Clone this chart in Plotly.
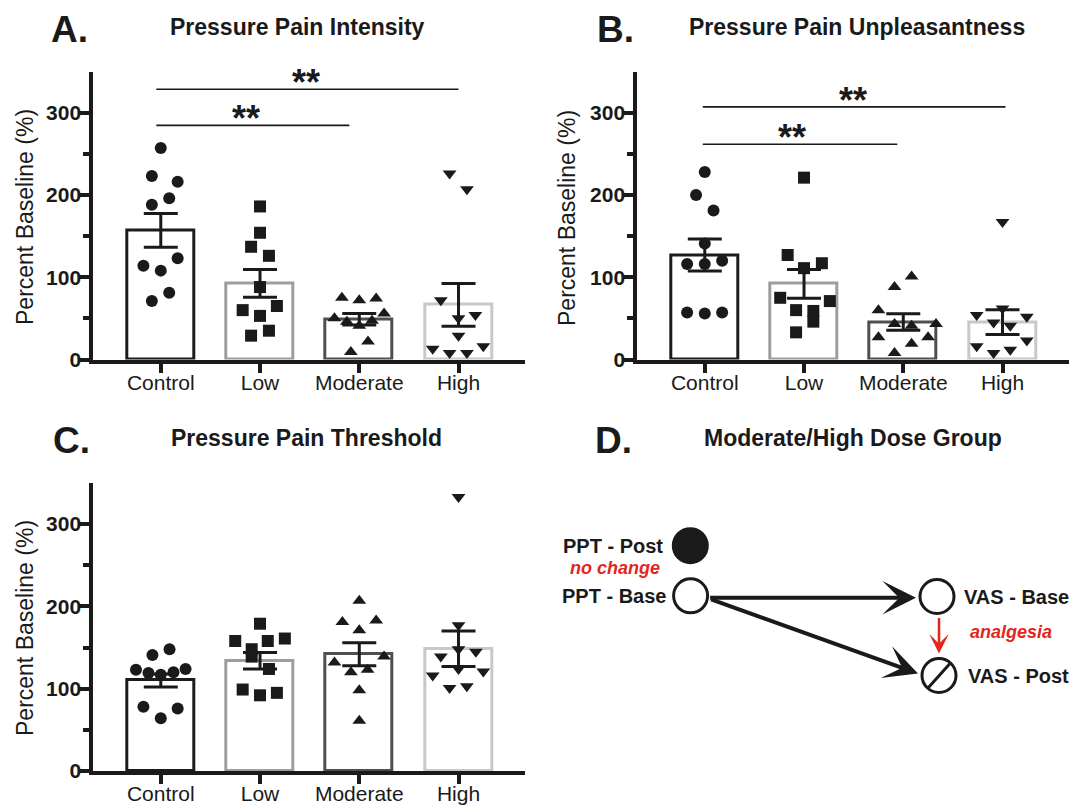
import plotly.graph_objects as go

W, H = 1069, 805

# ---------------- data ----------------
categories = ["Control", "Low", "Moderate", "High"]

# Panel A: Pressure Pain Intensity (% baseline, individual subjects)
intensity_control = [257, 223, 216, 196, 188, 123, 114, 108, 81, 71]
intensity_low = [186, 154, 137, 126, 88, 65, 60, 53, 35, 29]
intensity_moderate = [75, 72, 74, 56, 50, 46, 41, 47, 22, 9]
intensity_high = [226, 207, 72, 50, 54, 29, 13, 16, 8, 8]
intensity_mean = [157, 92.5, 49, 66.5]
intensity_sem = [20.5, 17, 7, 26]

# Panel B: Pressure Pain Unpleasantness
unpleasant_control = [228, 200, 181, 141, 116, 116, 120, 57, 56, 57]
unpleasant_low = [221, 127, 117, 111, 75, 71, 60, 59, 46, 33]
unpleasant_moderate = [101, 88, 60, 43, 41, 43, 27, 27, 19, 8]
unpleasant_high = [167, 62, 54, 52, 45, 41, 16, 23, 12, 8]
unpleasant_mean = [127, 92, 45.5, 45.5]
unpleasant_sem = [19.5, 17.5, 10, 15]

# Panel C: Pressure Pain Threshold
threshold_control = [141, 148, 123, 119, 117, 120, 124, 78, 76, 64]
threshold_low = [179, 158, 158, 161, 148, 139, 124, 99, 92, 95]
threshold_moderate = [207, 181, 183, 171, 139, 132, 120, 123, 98, 61]
threshold_high = [333, 177, 148, 139, 145, 124, 116, 121, 101, 103]
threshold_mean = [110, 134, 142, 148.5]
threshold_sem = [8, 10, 14, 21.5]

# significance brackets: (line start, line end, height, label x, label)
sig_intensity = [(-0.045, 1.9, 284.5, 0.855, "**"), (-0.045, 3.0, 328.5, 1.46, "**")]
sig_unpleasant = [(-0.02, 1.94, 261.5, 0.88, "**"), (-0.02, 3.03, 307, 1.49, "**")]

# horizontal jitter of the dots (category units)
jit_A = [
    [0, -0.09, 0.17, 0.085, -0.09, 0.17, -0.175, 0, 0.085, -0.09],
    [0, 0, -0.09, 0.09, 0, 0.17, -0.175, 0, 0.09, -0.09],
    [-0.175, 0, 0.17, 0.25, -0.25, -0.125, 0, 0.128, 0.088, -0.085],
    [-0.09, 0.085, -0.178, 0, 0.17, 0, -0.26, 0.25, -0.09, 0.085],
]
jit_B = [
    [0, -0.088, 0.088, 0, -0.178, 0, 0.175, -0.178, 0, 0.175],
    [0, -0.165, 0.18, 0, -0.24, 0.26, -0.08, 0.094, 0.094, -0.08],
    [0.084, -0.088, -0.25, -0.088, 0.084, 0.33, -0.25, 0.25, 0.084, -0.088],
    [0, 0, -0.26, 0.245, -0.09, 0.078, -0.26, 0.245, 0.078, -0.09],
]
jit_C = [
    [-0.084, 0.088, -0.25, -0.124, 0, 0.128, 0.25, -0.175, 0.17, 0],
    [0, -0.25, 0.078, 0.25, -0.084, -0.084, 0.09, -0.175, 0, 0.17],
    [0, -0.17, 0.17, 0, 0.25, -0.25, -0.084, 0.084, 0, 0],
    [0, 0, 0, -0.178, 0.175, 0, -0.26, 0.25, -0.09, 0.084],
]

# diagram (panel D)
node_names = ["PPT - Post", "PPT - Base", "VAS - Base", "VAS - Post"]
node_x = [690.3, 690.6, 937, 939]
node_y = [545.7, 595.8, 596.5, 675.5]

# ---------------- styles ----------------
FONT = "Arial, Liberation Sans, Helvetica, sans-serif"
INK = "#1a1a1a"
RED = "#e2261c"
BAR_LINE = ["#1c1c1c", "#9d9d9d", "#4f4f4f", "#c8c8cc"]
SYMBOLS = ["circle", "square", "triangle-up", "triangle-down"]
SIZES = [12, 12, 12, 12]


def px(x):
    return x / W


def py(y):
    return 1 - y / H


fig = go.Figure()

panels = [
    dict(sfx="", groups=[intensity_control, intensity_low, intensity_moderate, intensity_high],
         mean=intensity_mean, sem=intensity_sem, jit=jit_A, sig=sig_intensity,
         xdom=(93.3, 525), ydom=(71.5, 359.5)),
    dict(sfx="2", groups=[unpleasant_control, unpleasant_low, unpleasant_moderate, unpleasant_high],
         mean=unpleasant_mean, sem=unpleasant_sem, jit=jit_B, sig=sig_unpleasant,
         xdom=(637.3, 1069), ydom=(71.5, 359.5)),
    dict(sfx="3", groups=[threshold_control, threshold_low, threshold_moderate, threshold_high],
         mean=threshold_mean, sem=threshold_sem, jit=jit_C, sig=[],
         xdom=(93.3, 525), ydom=(483, 771)),
]

xpos = list(range(len(categories)))

for p in panels:
    xa, ya = "x" + p["sfx"], "y" + p["sfx"]
    fig.add_trace(go.Bar(
        x=xpos, y=p["mean"], width=0.675, xaxis=xa, yaxis=ya,
        marker=dict(color="white", line=dict(color=BAR_LINE, width=3)),
        hoverinfo="skip"))
    for gi, vals in enumerate(p["groups"]):
        fig.add_trace(go.Scatter(
            x=[gi + j for j in p["jit"][gi]], y=vals, mode="markers",
            xaxis=xa, yaxis=ya, cliponaxis=False,
            marker=dict(symbol=SYMBOLS[gi], size=SIZES[gi], color=INK, line=dict(width=0))))
    fig.add_trace(go.Scatter(
        x=xpos, y=p["mean"], mode="markers", xaxis=xa, yaxis=ya,
        marker=dict(size=1, color="rgba(0,0,0,0)"),
        error_y=dict(type="data", array=p["sem"], color=INK, thickness=3, width=17)))
    for (x0, x1, h, lx, lab) in p["sig"]:
        fig.add_shape(type="line", xref=xa, yref=ya, x0=x0, x1=x1,
                      y0=h, y1=h, line=dict(color=INK, width=1.6))
        fig.add_annotation(xref=xa, yref=ya, x=lx, y=h, text=lab, showarrow=False,
                           yanchor="bottom", yshift=-16,
                           font=dict(family=FONT, size=36, color=INK, weight="bold"))

    ax_common = dict(showgrid=False, zeroline=False, showline=True, linewidth=4, linecolor=INK,
                     ticks="outside", tickwidth=4, tickcolor=INK, automargin=False)
    fig.update_layout({
        "xaxis" + p["sfx"]: dict(ax_common, domain=[px(p["xdom"][0]), px(p["xdom"][1])],
                                 anchor=ya, range=[-0.68, 3.67], tickvals=xpos, ticktext=categories,
                                 ticklen=9, ticklabelstandoff=-8,
                                 tickfont=dict(family=FONT, size=21, color=INK)),
        "yaxis" + p["sfx"]: dict(ax_common, domain=[py(p["ydom"][1]), py(p["ydom"][0])],
                                 anchor=xa, range=[0, 350], tickvals=[0, 100, 200, 300],
                                 ticklen=10, ticklabelstandoff=-6,
                                 minor=dict(tickvals=[50, 150, 250], ticks="outside", ticklen=6,
                                            tickwidth=4, tickcolor=INK),
                                 tickfont=dict(family=FONT, size=21, color=INK, weight="bold")),
    })

# ---------------- panel D diagram ----------------
fig.update_layout(
    xaxis4=dict(domain=[px(540), 1], range=[540, 1069], visible=False, anchor="y4", automargin=False),
    yaxis4=dict(domain=[py(700), py(500)], range=[700, 500], visible=False, anchor="x4", automargin=False),
)
fig.add_trace(go.Scatter(
    x=node_x, y=node_y, mode="markers", xaxis="x4", yaxis="y4",
    marker=dict(size=34, color=[INK, "white", "white", "white"], line=dict(color=INK, width=3))))
# slash through VAS - Post
fig.add_shape(type="line", xref="x4", yref="y4", x0=node_x[3] - 11, y0=node_y[3] + 12.5,
              x1=node_x[3] + 11, y1=node_y[3] - 12, line=dict(color=INK, width=3))

arrow_common = dict(xref="x4", yref="y4", axref="x4", ayref="y4", text="", showarrow=True,
                    standoff=0, startstandoff=0)
fig.add_annotation(arrow_common, x=node_x[2] - 21, y=node_y[1] + 2, ax=node_x[1] + 18, ay=node_y[1] + 2,
                   arrowhead=3, arrowsize=1.4, arrowwidth=4, arrowcolor=INK)
fig.add_annotation(arrow_common, x=node_x[3] - 21, y=node_y[3] - 2, ax=node_x[1] + 19, ay=node_y[1] + 3,
                   arrowhead=3, arrowsize=1.4, arrowwidth=4, arrowcolor=INK)
fig.add_annotation(arrow_common, x=node_x[2] + 2, y=node_y[3] - 22, ax=node_x[2] + 2, ay=node_y[2] + 20,
                   arrowhead=3, arrowsize=1.3, arrowwidth=2.5, arrowcolor=RED)

lab_font = dict(family=FONT, size=20, color=INK, weight="bold")
red_font = dict(family=FONT, size=18, color=RED, weight="bold", style="italic")
fig.add_annotation(xref="x4", yref="y4", x=665, y=node_y[0], text=node_names[0], showarrow=False,
                   xanchor="right", yanchor="middle", font=lab_font)
fig.add_annotation(xref="x4", yref="y4", x=667.5, y=node_y[1], text=node_names[1], showarrow=False,
                   xanchor="right", yanchor="middle", font=lab_font)
fig.add_annotation(xref="x4", yref="y4", x=961.5, y=node_y[2], text=node_names[2], showarrow=False,
                   xanchor="left", yanchor="middle", font=lab_font)
fig.add_annotation(xref="x4", yref="y4", x=965.5, y=node_y[3], text=node_names[3], showarrow=False,
                   xanchor="left", yanchor="middle", font=lab_font)
fig.add_annotation(xref="x4", yref="y4", x=662, y=568, text="no change", showarrow=False,
                   xanchor="right", yanchor="middle", font=red_font)
fig.add_annotation(xref="x4", yref="y4", x=967.5, y=631.5, text="analgesia", showarrow=False,
                   xanchor="left", yanchor="middle", font=red_font)

# ---------------- panel letters, titles, axis titles ----------------
letters = [("A.", 49, 29), ("B.", 595, 30), ("C.", 51, 441), ("D.", 593, 441)]
for t, x, y in letters:
    fig.add_annotation(xref="paper", yref="paper", x=px(x), y=py(y), text=t, showarrow=False,
                       xanchor="left", yanchor="middle",
                       font=dict(family=FONT, size=37, color=INK, weight="bold"))
titles = [("Pressure Pain Intensity", 297.5, 27), ("Pressure Pain Unpleasantness", 856.5, 27),
          ("Pressure Pain Threshold", 306, 438), ("Moderate/High Dose Group", 853, 438)]
for t, x, y in titles:
    fig.add_annotation(xref="paper", yref="paper", x=px(x), y=py(y), text=t, showarrow=False,
                       xanchor="center", yanchor="middle",
                       font=dict(family=FONT, size=23, color=INK, weight="bold"))
ytitles = [(25, 217), (567, 218), (25, 628)]
for x, y in ytitles:
    fig.add_annotation(xref="paper", yref="paper", x=px(x), y=py(y), text="Percent Baseline (%)",
                       showarrow=False, textangle=-90, xanchor="center", yanchor="middle",
                       font=dict(family=FONT, size=23, color=INK))

fig.update_layout(
    template="none",
    width=W, height=H, autosize=False, showlegend=False,
    margin=dict(l=0, r=0, t=0, b=0, pad=0),
    paper_bgcolor="white", plot_bgcolor="white",
    bargap=0,
)

fig.write_html("out.html")
